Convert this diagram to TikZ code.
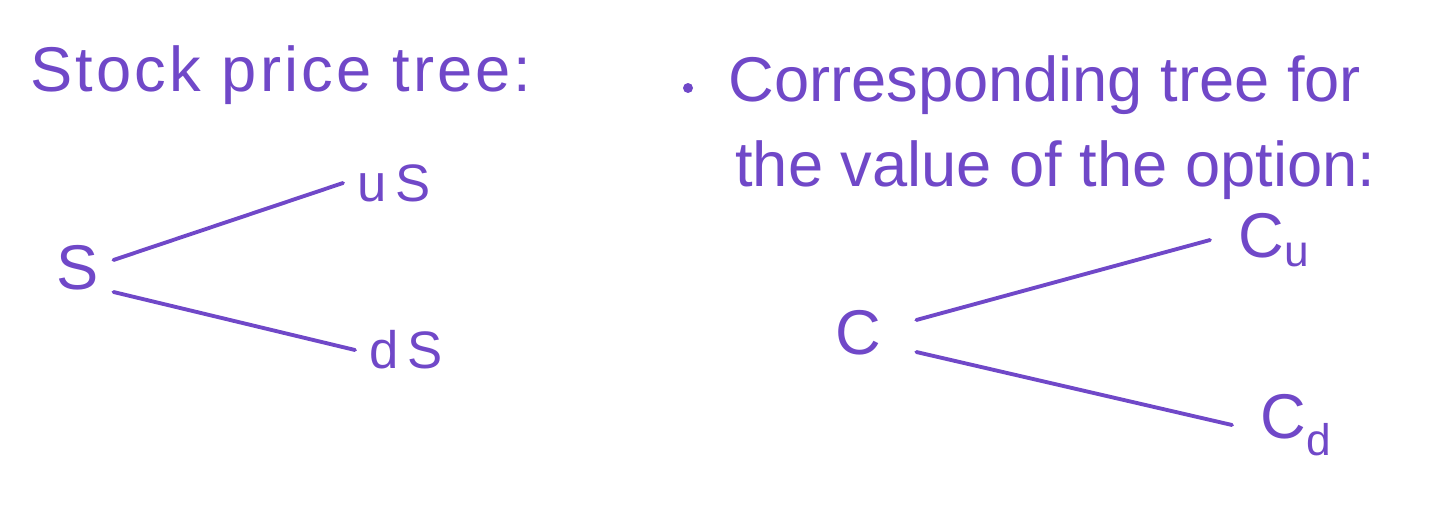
\documentclass[tikz,border=0pt]{standalone}
\usepackage{fontspec}
\setmainfont{Liberation Sans}
\usetikzlibrary{positioning}

\definecolor{ink}{RGB}{112,72,200}

\begin{document}
\begin{tikzpicture}[
    x=0.02cm, y=-0.02cm,
    every node/.style={text=ink},
    title/.style={anchor=west, inner sep=0pt, font=\fontsize{36}{40}\selectfont},
    lbl/.style={inner sep=8pt, font=\fontsize{36}{40}\selectfont},
    leaf/.style={inner sep=8pt, font=\fontsize{30}{34}\selectfont},
    branch/.style={draw=ink, line width=2.2pt, line cap=round}
  ]
    \useasboundingbox (0,0) rectangle (1450,514);

    % left: stock price tree
    \node[title] (stocktitle) at (30,75) {\addfontfeatures{LetterSpace=5}Stock price tree:};
    \node[lbl] (S) at (78,268) {S};
    \node[leaf, anchor=west] (uS) at (343,183) {u\,S};
    \node[leaf, anchor=west] (dS) at (355,350) {d\,S};

    \draw[branch] ([yshift=0.16cm]S.east) -- (uS.west);
    \draw[branch] ([yshift=-0.48cm]S.east) -- (dS.west);

    % right: tree for the option value
    \node[circle, fill=ink, inner sep=0pt, minimum size=0.2cm] (dot) at (688,88) {};
    \node[title] (opttitle) at (728,85) {Corresponding tree for};
    \node[title, below=0.5cm of opttitle.south west, anchor=north west, xshift=0.14cm] (opttitle2) {the value of the option:};

    \node[lbl, inner xsep=20pt] (C) at (858,333) {C};
    \node[lbl, anchor=west, inner xsep=16pt] (Cu) at (1210,240) {C\textsubscript{u}};
    \node[lbl, anchor=west, inner xsep=16pt] (Cd) at (1232,425) {C\textsubscript{d}};

    \draw[branch] ([yshift=0.26cm]C.east) -- (Cu.west);
    \draw[branch] ([yshift=-0.38cm]C.east) -- (Cd.west);
  \end{tikzpicture}
\end{document}
